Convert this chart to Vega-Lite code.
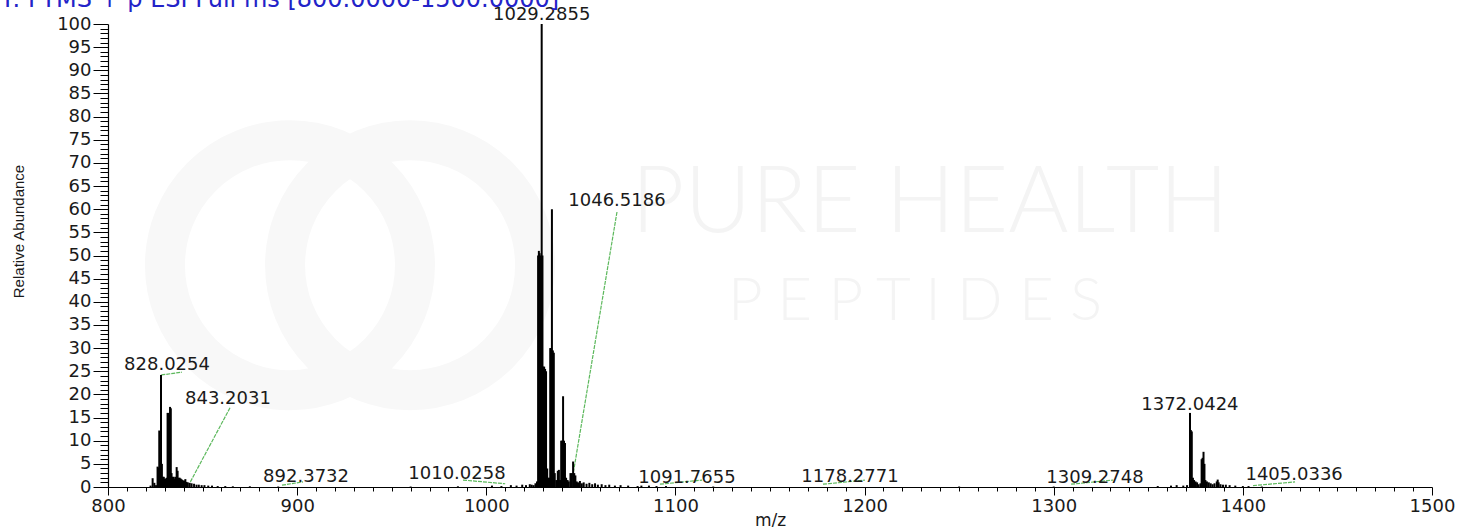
{
  "$schema": "https://vega.github.io/schema/vega-lite/v6.json",
  "width": 1324,
  "height": 463,
  "autosize": {"type": "none"},
  "padding": {"left": 108, "top": 24, "right": 35, "bottom": 40},
  "background": "white",
  "config": {"view": {"stroke": null}},
  "datasets": {
    "spectrum": [
      {"mz": 822.5, "int": 0.3}, {"mz": 823.6, "int": 1.9}, {"mz": 824.5, "int": 0.9}, {"mz": 825.4, "int": 0.4},
      {"mz": 826.2, "int": 4.4}, {"mz": 826.6, "int": 4.2}, {"mz": 827.1, "int": 12.2}, {"mz": 827.5, "int": 12.0},
      {"mz": 827.9, "int": 11.8}, {"mz": 828.03, "int": 24.2}, {"mz": 828.5, "int": 5.0}, {"mz": 829.0, "int": 2.2},
      {"mz": 829.5, "int": 2.2}, {"mz": 830.1, "int": 1.8}, {"mz": 830.6, "int": 1.8}, {"mz": 831.1, "int": 2.0},
      {"mz": 831.5, "int": 16.0}, {"mz": 831.9, "int": 16.0}, {"mz": 832.3, "int": 15.5}, {"mz": 832.8, "int": 17.3},
      {"mz": 833.2, "int": 17.0}, {"mz": 833.6, "int": 3.0}, {"mz": 834.1, "int": 2.2}, {"mz": 834.6, "int": 2.2},
      {"mz": 835.1, "int": 1.8}, {"mz": 835.6, "int": 2.2}, {"mz": 836.3, "int": 4.3}, {"mz": 836.8, "int": 3.5},
      {"mz": 837.3, "int": 2.0}, {"mz": 837.9, "int": 2.0}, {"mz": 838.5, "int": 1.8}, {"mz": 839.1, "int": 1.6},
      {"mz": 839.7, "int": 1.4}, {"mz": 840.3, "int": 1.4}, {"mz": 840.9, "int": 1.7}, {"mz": 841.5, "int": 1.1},
      {"mz": 842.2, "int": 1.0}, {"mz": 843.2, "int": 0.9}, {"mz": 844.2, "int": 0.8}, {"mz": 845.5, "int": 0.7},
      {"mz": 846.8, "int": 0.5}, {"mz": 848.0, "int": 0.5}, {"mz": 849.5, "int": 0.4}, {"mz": 851.0, "int": 0.4},
      {"mz": 853.0, "int": 0.3}, {"mz": 855.0, "int": 0.3}, {"mz": 858.0, "int": 0.2}, {"mz": 862.0, "int": 0.2},
      {"mz": 866.0, "int": 0.15}, {"mz": 875.0, "int": 0.15}, {"mz": 890.0, "int": 0.1}, {"mz": 960.0, "int": 0.1},
      {"mz": 985.0, "int": 0.15}, {"mz": 1003.0, "int": 0.3}, {"mz": 1008.0, "int": 0.2}, {"mz": 1013.0, "int": 0.4},
      {"mz": 1016.0, "int": 0.3}, {"mz": 1019.0, "int": 0.5}, {"mz": 1021.0, "int": 0.4}, {"mz": 1023.0, "int": 0.6},
      {"mz": 1024.0, "int": 0.5}, {"mz": 1025.0, "int": 0.4}, {"mz": 1026.0, "int": 0.8}, {"mz": 1026.8, "int": 1.2},
      {"mz": 1027.4, "int": 50.0}, {"mz": 1027.8, "int": 51.0}, {"mz": 1028.2, "int": 50.5}, {"mz": 1028.7, "int": 50.0},
      {"mz": 1029.29, "int": 100.0}, {"mz": 1029.7, "int": 50.0}, {"mz": 1030.1, "int": 26.0}, {"mz": 1030.6, "int": 26.0},
      {"mz": 1031.1, "int": 25.5}, {"mz": 1031.6, "int": 25.0}, {"mz": 1032.2, "int": 4.0}, {"mz": 1032.8, "int": 2.0},
      {"mz": 1033.4, "int": 2.0}, {"mz": 1033.8, "int": 30.0}, {"mz": 1034.2, "int": 30.0}, {"mz": 1034.7, "int": 60.0},
      {"mz": 1035.2, "int": 29.5}, {"mz": 1035.7, "int": 29.0}, {"mz": 1036.2, "int": 3.0}, {"mz": 1037.0, "int": 1.5},
      {"mz": 1037.8, "int": 3.5}, {"mz": 1038.4, "int": 3.7}, {"mz": 1039.0, "int": 1.5}, {"mz": 1039.6, "int": 10.0},
      {"mz": 1040.1, "int": 10.0}, {"mz": 1040.6, "int": 19.6}, {"mz": 1041.1, "int": 10.0}, {"mz": 1041.6, "int": 9.5},
      {"mz": 1042.2, "int": 2.0}, {"mz": 1043.0, "int": 1.5}, {"mz": 1043.6, "int": 1.2}, {"mz": 1044.5, "int": 3.0},
      {"mz": 1045.2, "int": 3.0}, {"mz": 1045.9, "int": 5.5}, {"mz": 1046.5, "int": 3.0}, {"mz": 1047.1, "int": 2.5},
      {"mz": 1047.8, "int": 1.2}, {"mz": 1048.5, "int": 1.0}, {"mz": 1049.5, "int": 1.3}, {"mz": 1050.5, "int": 0.8},
      {"mz": 1051.5, "int": 1.0}, {"mz": 1053.0, "int": 0.7}, {"mz": 1054.5, "int": 0.9}, {"mz": 1056.0, "int": 0.6},
      {"mz": 1057.5, "int": 0.8}, {"mz": 1059.0, "int": 0.5}, {"mz": 1061.0, "int": 0.6}, {"mz": 1063.0, "int": 0.4},
      {"mz": 1065.0, "int": 0.5}, {"mz": 1068.0, "int": 0.3}, {"mz": 1071.0, "int": 0.4}, {"mz": 1075.0, "int": 0.3},
      {"mz": 1080.0, "int": 0.2}, {"mz": 1082.0, "int": 0.3}, {"mz": 1086.0, "int": 0.3}, {"mz": 1090.0, "int": 0.2},
      {"mz": 1095.0, "int": 0.2}, {"mz": 1120.0, "int": 0.1}, {"mz": 1250.0, "int": 0.1}, {"mz": 1300.0, "int": 0.1},
      {"mz": 1355.0, "int": 0.2}, {"mz": 1362.0, "int": 0.3}, {"mz": 1365.0, "int": 0.4}, {"mz": 1368.5, "int": 0.3},
      {"mz": 1370.5, "int": 0.4}, {"mz": 1372.04, "int": 16.0}, {"mz": 1372.5, "int": 12.3}, {"mz": 1373.0, "int": 12.0},
      {"mz": 1373.6, "int": 2.0}, {"mz": 1374.2, "int": 1.5}, {"mz": 1375.0, "int": 1.2}, {"mz": 1375.8, "int": 1.0},
      {"mz": 1376.6, "int": 0.6}, {"mz": 1377.6, "int": 0.8}, {"mz": 1378.2, "int": 6.0}, {"mz": 1378.7, "int": 6.3},
      {"mz": 1379.2, "int": 7.6}, {"mz": 1379.7, "int": 5.0}, {"mz": 1380.2, "int": 1.5}, {"mz": 1381.0, "int": 1.2},
      {"mz": 1382.0, "int": 1.0}, {"mz": 1383.0, "int": 0.8}, {"mz": 1384.0, "int": 0.6}, {"mz": 1385.0, "int": 0.8},
      {"mz": 1386.2, "int": 1.2}, {"mz": 1386.7, "int": 1.6}, {"mz": 1387.2, "int": 1.0}, {"mz": 1388.2, "int": 0.6},
      {"mz": 1389.5, "int": 0.5}, {"mz": 1391.0, "int": 0.5}, {"mz": 1393.0, "int": 0.4}, {"mz": 1396.0, "int": 0.3},
      {"mz": 1400.0, "int": 0.2}, {"mz": 1403.0, "int": 0.2}, {"mz": 1410.0, "int": 0.1}
    ],
    "leaders": [
      {"mz": 864.5, "int": 17.1, "mz2": 843.4, "int2": 1.0},
      {"mz": 1069.1, "int": 59.4, "mz2": 1045.5, "int2": 1.8},
      {"mz": 828.2, "int": 24.2, "mz2": 839.1, "int2": 24.8},
      {"mz": 892.0, "int": 0.4, "mz2": 903.1, "int2": 1.1},
      {"mz": 987.7, "int": 1.5, "mz2": 1010.0, "int2": 0.7},
      {"mz": 1091.8, "int": 0.6, "mz2": 1114.1, "int2": 1.5},
      {"mz": 1178.0, "int": 0.6, "mz2": 1200.2, "int2": 1.5},
      {"mz": 1309.2, "int": 0.6, "mz2": 1331.4, "int2": 1.5},
      {"mz": 1405.4, "int": 0.3, "mz2": 1427.6, "int2": 1.1}
    ],
    "labels": [
      {"mz": 1029.29, "int": 100.9, "label": "1029.2855"},
      {"mz": 1069.1, "int": 60.7, "label": "1046.5186"},
      {"mz": 831.2, "int": 25.3, "label": "828.0254"},
      {"mz": 863.4, "int": 17.9, "label": "843.2031"},
      {"mz": 1372.0, "int": 16.6, "label": "1372.0424"},
      {"mz": 904.7, "int": 1.1, "label": "892.3732"},
      {"mz": 984.5, "int": 1.7, "label": "1010.0258"},
      {"mz": 1106.1, "int": 0.9, "label": "1091.7655"},
      {"mz": 1192.3, "int": 1.1, "label": "1178.2771"},
      {"mz": 1321.8, "int": 0.9, "label": "1309.2748"},
      {"mz": 1427.1, "int": 1.5, "label": "1405.0336"}
    ],
    "heading": [
      {"mz": 743.0, "int": 103.6, "label": "T: FTMS + p ESI Full ms [800.0000-1500.0000]"}
    ],
    "rings": [
      {"mz": 896.2, "int": 47.9},
      {"mz": 959.7, "int": 47.9}
    ],
    "watermark": [
      {"mz": 1234.6, "int": 55.1, "t": "PURE HEALTH", "kind": "big"},
      {"mz": 1226.7, "int": 36.1, "t": "P  E  P  T  I  D  E  S", "kind": "small"}
    ]
  },
  "encoding": {
    "x": {
      "field": "mz",
      "type": "quantitative",
      "scale": {"domain": [800, 1500], "nice": false, "zero": false},
      "axis": {
        "title": "m/z",
        "values": [800,810,820,830,840,850,860,870,880,890,900,910,920,930,940,950,960,970,980,990,1000,1010,1020,1030,1040,1050,1060,1070,1080,1090,1100,1110,1120,1130,1140,1150,1160,1170,1180,1190,1200,1210,1220,1230,1240,1250,1260,1270,1280,1290,1300,1310,1320,1330,1340,1350,1360,1370,1380,1390,1400,1410,1420,1430,1440,1450,1460,1470,1480,1490,1500],
        "format": "d",
        "labelExpr": "datum.value % 100 === 0 ? datum.label : ''",
        "labelOverlap": false,
        "labelFlush": false,
        "labelFont": "DejaVu Sans",
        "labelFontSize": 18,
        "labelColor": "#1a1a1a",
        "labelPadding": 2,
        "tickSize": {"condition": {"test": "datum.value % 100 === 0", "value": 8}, "value": 4},
        "tickColor": "black",
        "tickWidth": 1,
        "domainColor": "black",
        "domainWidth": 1.2,
        "grid": false,
        "titleFont": "DejaVu Sans",
        "titleFontSize": 17,
        "titleFontWeight": "normal",
        "titleColor": "#1a1a1a",
        "titleBaseline": "top",
        "titleY": 25
      }
    },
    "y": {
      "field": "int",
      "type": "quantitative",
      "scale": {"domain": [0, 100], "nice": false},
      "axis": {
        "title": "Relative Abundance",
        "values": [0,1,2,3,4,5,6,7,8,9,10,11,12,13,14,15,16,17,18,19,20,21,22,23,24,25,26,27,28,29,30,31,32,33,34,35,36,37,38,39,40,41,42,43,44,45,46,47,48,49,50,51,52,53,54,55,56,57,58,59,60,61,62,63,64,65,66,67,68,69,70,71,72,73,74,75,76,77,78,79,80,81,82,83,84,85,86,87,88,89,90,91,92,93,94,95,96,97,98,99,100],
        "format": "d",
        "labelExpr": "datum.value % 5 === 0 ? datum.label : ''",
        "labelOverlap": false,
        "labelFlush": false,
        "labelFont": "DejaVu Sans",
        "labelFontSize": 18,
        "labelColor": "#1a1a1a",
        "labelPadding": 2,
        "tickSize": {"condition": {"test": "datum.value % 5 === 0", "value": 15}, "value": 8},
        "tickColor": "black",
        "tickWidth": 1,
        "domainColor": "black",
        "domainWidth": 1.2,
        "grid": false,
        "titleFont": "Liberation Sans Narrow, Liberation Sans",
        "titleFontSize": 15,
        "titleFontWeight": "normal",
        "titleColor": "#1a1a1a",
        "titleAngle": -90,
        "titleAlign": "center",
        "titleBaseline": "middle",
        "titleX": -90,
        "titleY": 207
      }
    }
  },
  "layer": [
    {
      "data": {"name": "rings"},
      "mark": {"type": "point", "shape": "circle", "filled": false, "size": 62500, "strokeWidth": 40, "color": "#f8f8f8", "opacity": 1}
    },
    {
      "data": {"name": "watermark"},
      "mark": {"type": "text", "align": "center", "baseline": "alphabetic", "font": "Lato", "fontWeight": 300, "color": "#f4f4f4"},
      "encoding": {
        "text": {"field": "t"},
        "size": {"field": "kind", "type": "nominal", "scale": {"domain": ["big", "small"], "range": [92, 60]}, "legend": null}
      }
    },
    {
      "data": {"name": "leaders"},
      "mark": {"type": "rule", "color": "#5cb85c", "strokeWidth": 1.2, "strokeDash": [4, 1]},
      "encoding": {
        "x2": {"field": "mz2"},
        "y2": {"field": "int2"}
      }
    },
    {
      "data": {"name": "spectrum"},
      "mark": {"type": "rule", "color": "black", "strokeWidth": 2},
      "encoding": {
        "y2": {"datum": 0}
      }
    },
    {
      "data": {"name": "labels"},
      "mark": {"type": "text", "align": "center", "baseline": "alphabetic", "font": "DejaVu Sans", "fontSize": 18, "color": "#1a1a1a"},
      "encoding": {
        "text": {"field": "label"}
      }
    },
    {
      "data": {"name": "heading"},
      "mark": {"type": "text", "align": "left", "baseline": "alphabetic", "font": "DejaVu Sans", "fontSize": 24, "color": "#2323c8", "clip": false},
      "encoding": {
        "text": {"field": "label"}
      }
    }
  ]
}
